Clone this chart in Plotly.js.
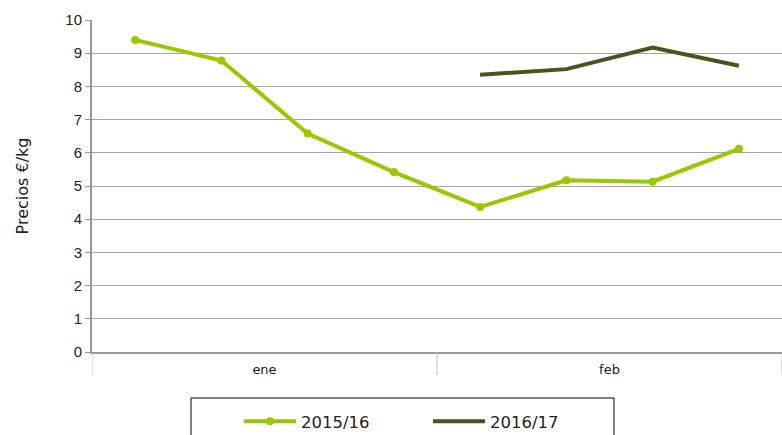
<!DOCTYPE html>
<html><head><meta charset="utf-8">
<script src="https://cdn.plot.ly/plotly-3.0.1.min.js"></script>
<style>body{margin:0;padding:0;background:#fff}#chart{width:782px;height:435px}</style>
</head><body><div id="chart"></div>
<script>
const xIndex = [0,1,2,3,4,5,6,7];
const s2015 = [9.40, 8.78, 6.58, 5.42, 4.37, 5.17, 5.13, 6.12];
const s2016 = [null, null, null, null, 8.35, 8.52, 9.17, 8.62];
const groupLabels = ['ene','feb'];
const groupCenters = [1.5, 5.5];
const groupEdges = [-0.5, 3.5, 7.5];
const yTicks = [0,1,2,3,4,5,6,7,8,9,10];

const traces = [
  {x: xIndex, y: s2015, name: '2015/16', type: 'scatter', mode: 'lines+markers',
   line: {color: '#99c700', width: 4}, marker: {color: '#99c700', size: 8}},
  {x: xIndex, y: s2016, name: '2016/17', type: 'scatter', mode: 'lines',
   line: {color: '#4a531b', width: 4}}
];

const shapes = groupEdges.map(e => ({type:'line', xref:'x', yref:'paper', x0:e, x1:e, y0:0, y1:-0.068,
  line:{color:'#bdbdbd', width:1}}));
shapes.push({type:'rect', xref:'paper', yref:'paper', x0:0.1435, x1:0.7565, y0:-0.1386, y1:-0.35,
  line:{color:'#000', width:1}, fillcolor:'rgba(0,0,0,0)'});

const layout = {
  width: 782, height: 435,
  margin: {l: 92, r: 0, t: 20, b: 83, autoexpand: false},
  paper_bgcolor: '#fff', plot_bgcolor: '#fff',
  font: {family: 'Liberation Sans, Arial, sans-serif', color: '#222'},
  showlegend: true,
  legend: {orientation: 'h', x: 0.213, xanchor: 'left', y: -0.157, yanchor: 'top',
    borderwidth: 0, bgcolor: 'rgba(0,0,0,0)', font: {family: 'DejaVu Sans, sans-serif', size: 16.5, color: '#222'},
    entrywidth: 122, itemwidth: 52},
  xaxis: {range: [-0.5, 7.5], tickmode: 'array', tickvals: groupCenters, ticktext: groupLabels,
    showgrid: false, zeroline: false, showline: true, linecolor: '#999', linewidth: 2,
    ticks: '', ticklabelstandoff: 4, tickfont: {family: 'DejaVu Sans, sans-serif', size: 13, color: '#222'}, fixedrange: true},
  yaxis: {range: [0, 10], tickmode: 'array', tickvals: yTicks, showgrid: true, gridcolor: '#a6a6a6', gridwidth: 1,
    zeroline: false, showline: true, linecolor: '#999', linewidth: 2, ticks: 'outside', ticklen: 5, tickcolor: '#999',
    tickfont: {size: 15, color: '#222'},
    title: {text: 'Precios €/kg', font: {family: 'DejaVu Sans, sans-serif', size: 16, color: '#222'}, standoff: 33}},
  shapes: shapes
};
Plotly.newPlot('chart', traces, layout, {displayModeBar: false, staticPlot: true});
</script></body></html>
